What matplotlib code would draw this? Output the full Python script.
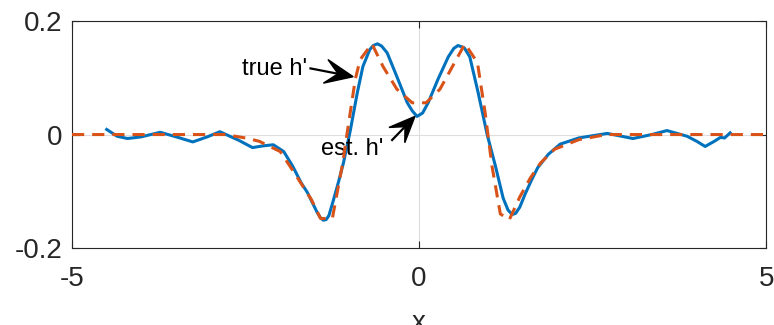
#! /usr/bin/env python3

import numpy as np
import matplotlib
matplotlib.use("Agg")
import matplotlib.pyplot as plt
from matplotlib.patches import Polygon
from matplotlib.transforms import IdentityTransform

plt.rcParams["font.family"] = ["Liberation Sans", "DejaVu Sans"]

# true h' (dashed)
x_true = [-5, -2.8, -2.5, -2.3, -2.0, -1.8, -1.55, -1.42, -1.25, -1.1, -1.04,
          -0.92, -0.85, -0.68, -0.52, -0.32, -0.1, 0.1, 0.3, 0.48, 0.66, 0.84,
          0.95, 1.05, 1.17, 1.3, 1.45, 1.6, 1.75, 1.95, 2.3, 2.7, 5]
y_true = [0, 0, -0.006, -0.012, -0.03, -0.067, -0.115, -0.148, -0.148, -0.05, 0,
          0.097, 0.132, 0.16, 0.12, 0.08, 0.056, 0.056, 0.08, 0.12, 0.16, 0.127,
          0.039, -0.056, -0.14, -0.15, -0.11, -0.077, -0.05, -0.026, -0.009, 0, 0]

# estimated h' (solid)
x_est = [-4.5, -4.35, -4.2, -4.0, -3.73, -3.5, -3.26, -3.05, -2.87, -2.6, -2.4,
         -2.25, -2.1, -1.95, -1.82, -1.7, -1.61, -1.53, -1.47, -1.42, -1.38, -1.34,
         -1.3, -1.24, -1.16, -1.09, -0.99, -0.89, -0.81, -0.71, -0.66, -0.6, -0.54,
         -0.46, -0.32, -0.17, -0.1, -0.03, 0.05, 0.13, 0.27, 0.42, 0.5, 0.56, 0.65,
         0.73, 0.85, 0.98, 1.1, 1.21, 1.28, 1.34, 1.39, 1.45, 1.53, 1.62, 1.71, 1.86,
         2.03, 2.3, 2.71, 3.08, 3.35, 3.57, 3.86, 4.0, 4.12, 4.25, 4.34, 4.4, 4.48]
y_est = [0.009, -0.003, -0.007, -0.004, 0.004, -0.004, -0.013, -0.004, 0.005, -0.01, -0.023,
         -0.02, -0.018, -0.03, -0.056, -0.085, -0.102, -0.122, -0.137, -0.147, -0.151, -0.15,
         -0.143, -0.118, -0.083, -0.05, 0.008, 0.074, 0.12, 0.15, 0.157, 0.16, 0.156,
         0.144, 0.102, 0.056, 0.042, 0.032, 0.038, 0.056, 0.097, 0.137, 0.152, 0.157, 0.153,
         0.137, 0.074, 0.0, -0.056, -0.112, -0.133, -0.141, -0.139, -0.128, -0.104, -0.08, -0.058, -0.035,
         -0.017, -0.006, 0.002, -0.007, 0.0, 0.007, -0.003, -0.012, -0.021, -0.012, -0.005, -0.006, 0.003]

blue = "#0072BD"
orange = "#D95319"
dark = "#262626"

fig = plt.figure(figsize=(7.74, 3.25), dpi=100)
ax = fig.add_axes([0.093, 0.237, 0.897, 0.698])

ax.plot(x_est, y_est, color=blue, lw=2.2, zorder=3)
ax.plot(x_true, y_true, color=orange, lw=2.2, dashes=(4, 2.6), zorder=4)

ax.set_xlim(-5, 5)
ax.set_ylim(-0.2, 0.2)
ax.set_xticks([-5, 0, 5])
ax.set_yticks([-0.2, 0, 0.2])
ax.set_xticklabels(["-5", "0", "5"])
ax.set_yticklabels(["-0.2", "0", "0.2"])
ax.grid(True, color="#dedede", lw=0.8)
ax.set_axisbelow(True)
ax.tick_params(direction="in", length=5, width=0.8, colors=dark, labelsize=20,
               top=True, right=True)
ax.tick_params(axis="x", pad=13)
ax.tick_params(axis="y", pad=7)
for s in ax.spines.values():
    s.set_color(dark)
    s.set_linewidth(0.8)

ax.set_xlabel("x", fontsize=20, color=dark, labelpad=13)

ax.text(-1.61, 0.115, "true h'", ha="right", va="center", fontsize=17, color="black")
ax.text(-0.97, -0.026, "est. h'", ha="center", va="center", fontsize=17, color="black")


def vback_arrow(p0, p1, head_len=28, half_w=12, notch=0.45):
    # MATLAB-like swept-back arrow, drawn in pixel space
    a = ax.transData.transform(p0)
    b = ax.transData.transform(p1)
    d = (b - a) / np.hypot(*(b - a))
    n = np.array([-d[1], d[0]])
    base = b - d * head_len
    wing1 = base + n * half_w
    wing2 = base - n * half_w
    inner = b - d * head_len * (1 - notch)
    ax.plot(*zip(a, inner), color="black", lw=1.6, transform=IdentityTransform(),
            solid_capstyle="butt", zorder=6)
    ax.add_patch(Polygon([b, wing1, inner, wing2], closed=True, color="black",
                         transform=IdentityTransform(), zorder=6))


fig.canvas.draw()
vback_arrow((-1.58, 0.117), (-0.95, 0.102))
vback_arrow((-0.4, -0.011), (-0.06, 0.032), head_len=26, half_w=11)

fig.savefig("out.png", dpi=100)
